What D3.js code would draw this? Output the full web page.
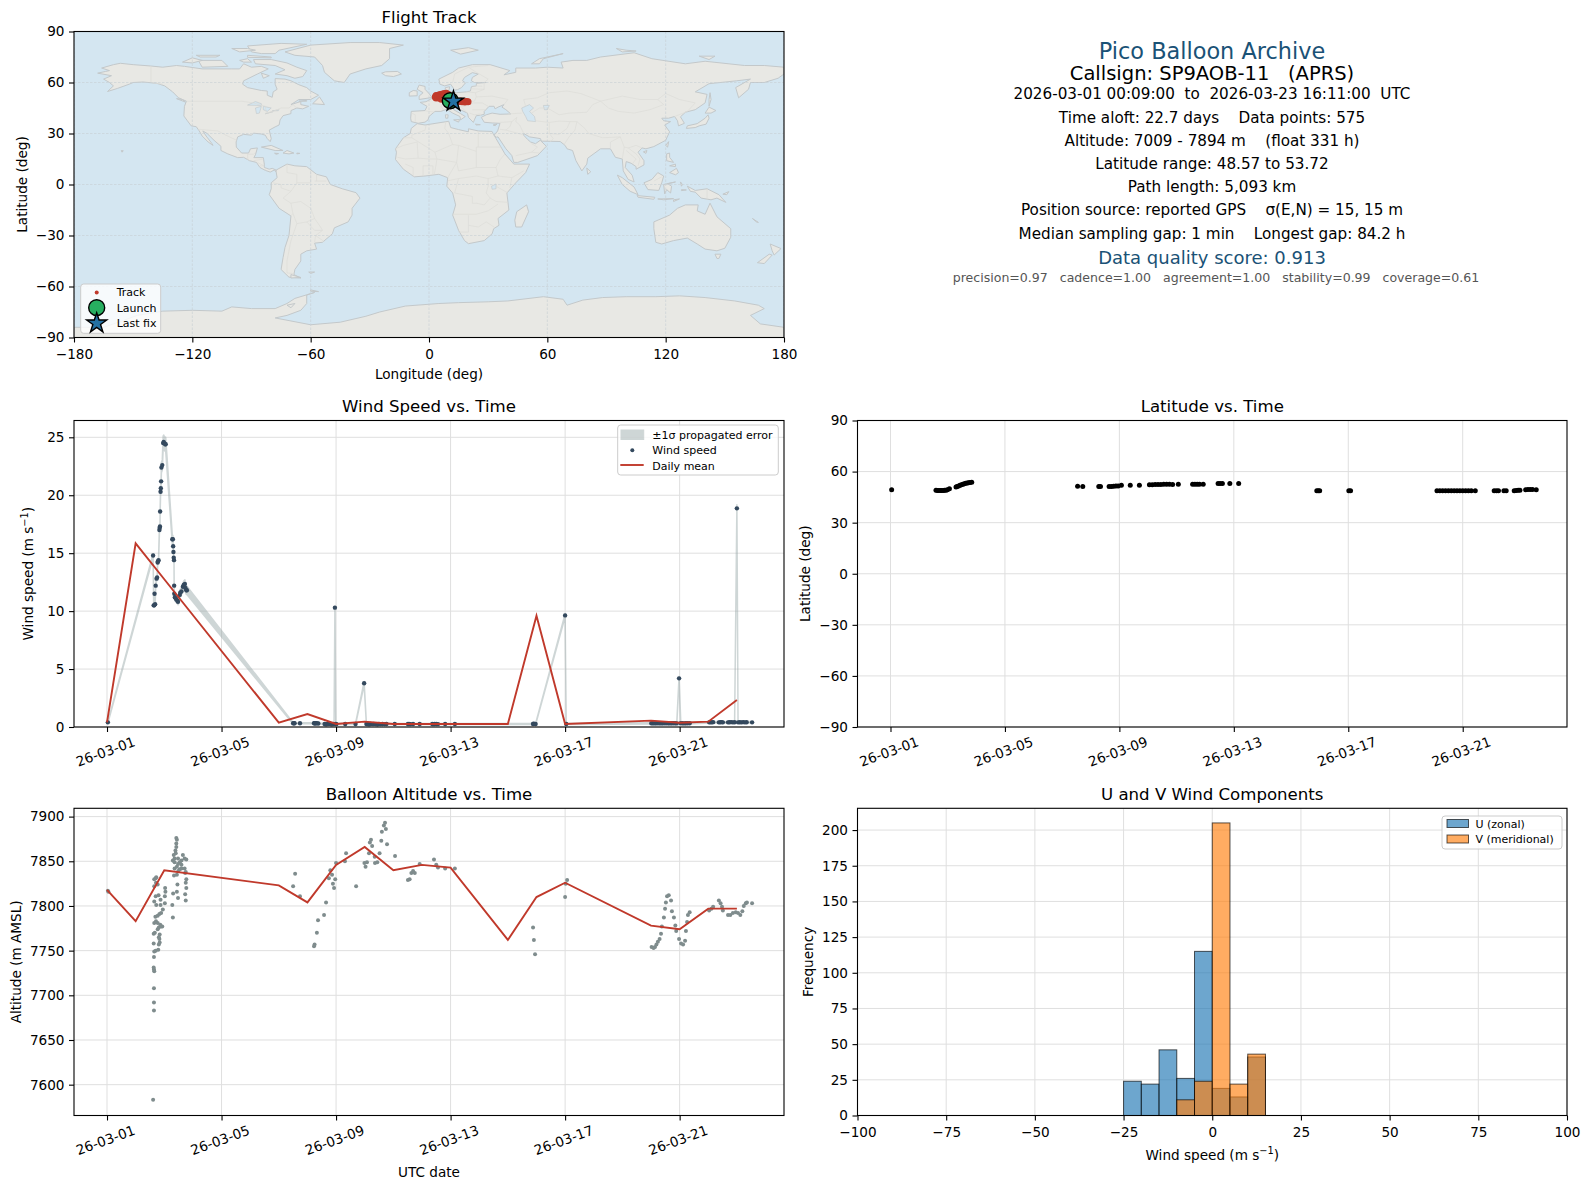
<!DOCTYPE html>
<html><head><meta charset="utf-8">
<script src="https://cdn.jsdelivr.net/npm/d3@7"></script>
<style>html,body{margin:0;padding:0;background:#fff}svg{display:block}text{font-family:"DejaVu Sans",sans-serif;fill:#000}</style>
</head><body><svg id="c" width="1589" height="1189"></svg>
<script>
// ---------- data ----------
const windDay=[1.03,2.61,2.63,2.65,2.66,2.68,2.70,2.73,2.75,2.77,2.78,2.80,2.83,2.84,2.85,2.855,2.87,2.88,2.89,2.90,2.93,2.96,2.98,3.00,3.03,3.05,3.28,3.30,3.31,3.32,3.33,3.34,3.345,3.35,3.37,3.40,3.42,3.46,3.48,3.54,3.56,3.60,3.65,3.68,3.72,3.74,3.77,3.79,7.50,7.53,7.55,7.74,8.23,8.25,8.27,8.29,8.33,8.38,8.60,8.65,8.70,8.75,8.80,8.85,8.90,8.93,8.96,8.99,9.01,9.32,9.68,9.98,10.06,10.10,10.15,10.20,10.26,10.32,10.38,10.44,10.50,10.56,10.62,10.70,10.76,11.05,11.51,11.55,11.60,11.69,11.92,12.36,12.40,12.44,12.50,12.56,12.81,13.15,15.88,15.90,15.93,15.97,17.00,17.04,20.01,20.06,20.12,20.18,20.24,20.30,20.36,20.42,20.48,20.54,20.60,20.66,20.72,20.78,20.84,20.90,20.98,21.04,21.10,21.16,21.22,21.28,21.35,22.03,22.08,22.13,22.17,22.37,22.42,22.47,22.51,22.69,22.74,22.80,22.86,22.92,23.00,23.04,23.10,23.16,23.22,23.28,23.34,23.53];
const windSpeed=[0.40,14.8,10.5,10.5,11.5,10.6,12.2,12.8,12.9,14.2,14.3,14.4,17.0,17.2,17.3,18.6,20.3,20.6,21.2,22.4,22.6,24.5,24.6,24.5,24.4,24.4,16.2,16.2,15.6,15.1,14.6,14.4,12.2,11.5,11.2,11.1,11.0,10.9,10.8,11.4,11.6,11.7,12.1,12.25,12.35,12.0,11.8,11.8,0.32,0.32,0.32,0.32,0.32,0.32,0.33,0.32,0.32,0.30,0.26,0.24,0.26,0.25,0.26,0.24,0.26,0.25,10.3,0.26,0.25,0.26,0.26,3.77,0.26,0.25,0.24,0.26,0.25,0.26,0.25,0.24,0.26,0.25,0.26,0.25,0.26,0.26,0.26,0.26,0.25,0.26,0.26,0.26,0.25,0.26,0.26,0.25,0.26,0.26,0.26,0.28,0.27,0.26,9.63,0.26,0.32,0.33,0.31,0.32,0.33,0.32,0.31,0.33,0.32,0.33,0.32,0.31,0.33,0.32,0.32,0.31,4.20,0.32,0.33,0.31,0.32,0.33,0.32,0.40,0.41,0.40,0.42,0.40,0.41,0.42,0.40,0.40,0.41,0.42,0.40,0.41,18.87,0.40,0.41,0.40,0.42,0.40,0.41,0.40];
const windSigma=[0.05,0.15,0.15,0.15,0.15,0.15,0.18,0.18,0.18,0.2,0.2,0.2,0.3,0.3,0.3,0.3,0.35,0.35,0.4,0.45,0.45,0.6,0.6,0.6,0.6,0.6,0.35,0.35,0.3,0.3,0.3,0.3,0.25,0.25,0.25,0.25,0.25,0.25,0.25,0.28,0.28,0.3,0.33,0.35,0.36,0.36,0.36,0.36,0.06,0.05,0.05,0.05,0.05,0.05,0.05,0.05,0.05,0.05,0.05,0.05,0.05,0.05,0.05,0.05,0.05,0.05,0.12,0.05,0.05,0.05,0.05,0.15,0.05,0.05,0.05,0.05,0.05,0.05,0.05,0.05,0.05,0.05,0.05,0.05,0.05,0.05,0.05,0.05,0.05,0.05,0.05,0.05,0.05,0.05,0.05,0.05,0.05,0.05,0.05,0.05,0.05,0.05,0.12,0.05,0.06,0.06,0.06,0.06,0.06,0.06,0.06,0.06,0.06,0.06,0.06,0.06,0.06,0.06,0.06,0.06,0.15,0.06,0.06,0.06,0.06,0.06,0.06,0.06,0.06,0.06,0.06,0.06,0.06,0.06,0.06,0.06,0.06,0.06,0.06,0.06,0.3,0.06,0.06,0.06,0.06,0.06,0.06,0.06];
const meanDay=[1,2,3,7,8,9,10,11,12,13,15,16,17,20,21,22,23];
const windMean=[0.40,15.85,12.75,0.37,1.12,0.26,0.46,0.26,0.26,0.26,0.26,9.6,0.26,0.55,0.37,0.46,2.33];
const altMean=[7818,7783,7840,7823,7804,7846,7866,7840,7846,7843,7762,7810,7826,7778,7774,7797,7797];
const altDay=[1.03,1.05,2.61,2.64,2.64,2.64,2.65,2.64,2.63,2.64,2.65,2.70,2.79,2.63,2.81,2.84,2.83,2.81,2.84,2.63,2.67,2.77,2.81,2.89,2.65,2.71,2.77,2.86,2.93,2.69,2.77,2.83,2.89,2.95,2.72,2.87,3.02,2.65,2.70,2.80,2.87,3.02,3.03,3.04,2.65,2.71,2.77,2.70,2.72,2.65,3.30,3.28,3.31,3.44,3.48,3.46,3.75,3.73,3.77,3.75,3.77,3.73,3.34,3.44,3.49,3.54,3.36,3.44,3.60,3.71,3.75,3.30,3.36,3.48,3.60,3.71,3.77,3.65,3.33,3.40,3.39,3.42,3.42,3.44,3.42,3.36,3.48,3.60,3.54,7.57,7.50,7.74,8.25,8.23,8.33,8.37,8.58,8.65,8.75,8.80,8.86,8.89,8.93,8.97,9.00,9.31,9.35,9.70,9.99,10.03,10.08,10.18,10.22,10.26,10.15,10.35,10.36,10.44,10.52,10.58,10.60,10.74,10.78,10.67,10.71,11.06,11.51,11.57,11.63,11.69,11.75,11.92,12.42,12.50,12.56,12.81,13.15,15.88,15.91,15.95,17.00,17.07,17.02,20.02,20.09,20.14,20.19,20.24,20.30,20.35,20.38,20.45,20.49,20.52,20.56,20.62,20.70,20.73,20.80,20.85,20.88,20.98,21.05,21.12,21.19,21.22,21.26,21.29,21.35,22.03,22.11,22.17,22.37,22.43,22.48,22.51,22.69,22.77,22.86,22.96,23.04,23.12,23.19,23.24,23.31,23.35,23.53];
const altValue=[7817,7816,7583,7683,7692,7708,7727,7729,7731,7743,7749,7750,7751,7758,7757,7759,7763,7765,7768,7769,7770,7774,7776,7777,7781,7783,7781,7779,7777,7788,7789,7791,7792,7796,7801,7801,7803,7805,7811,7812,7807,7811,7820,7816,7822,7826,7824,7831,7832,7830,7787,7801,7814,7816,7809,7824,7806,7813,7820,7826,7830,7837,7834,7835,7839,7841,7842,7844,7842,7842,7838,7851,7853,7853,7851,7853,7852,7857,7857,7859,7862,7866,7870,7874,7876,7849,7847,7846,7849,7836,7822,7811,7757,7755,7770,7784,7790,7804,7831,7840,7835,7825,7820,7830,7848,7850,7859,7822,7848,7844,7849,7871,7874,7867,7859,7855,7848,7849,7859,7873,7883,7886,7869,7890,7893,7856,7829,7830,7837,7839,7837,7847,7852,7846,7843,7842,7842,7776,7762,7746,7810,7829,7825,7754,7753,7754,7757,7760,7763,7769,7777,7787,7797,7804,7811,7812,7806,7794,7787,7778,7772,7763,7758,7757,7761,7772,7782,7790,7793,7795,7797,7799,7806,7803,7799,7795,7790,7790,7792,7793,7792,7790,7794,7800,7803,7804,7803];
const latDay=[1.04,2.59,2.64,2.69,2.74,2.79,2.84,2.89,2.94,2.99,3.06,3.29,3.33,3.38,3.43,3.48,3.53,3.58,3.63,3.68,3.73,3.78,3.84,7.54,7.72,8.28,8.34,8.64,8.72,8.80,8.88,8.96,9.07,9.38,9.70,10.05,10.15,10.25,10.35,10.45,10.55,10.65,10.75,10.86,11.06,11.56,11.64,11.72,11.80,11.93,12.45,12.52,12.60,12.86,13.17,15.90,15.95,16.00,17.02,17.08,20.10,20.20,20.30,20.40,20.50,20.60,20.70,20.80,20.90,21.00,21.10,21.20,21.30,21.44,22.10,22.18,22.25,22.44,22.52,22.80,22.87,22.94,23.00,23.20,23.28,23.36,23.44,23.57];
const latValue=[49.4,49.0,48.9,48.9,48.9,48.9,48.9,49.0,49.1,49.4,49.9,51.0,51.2,51.6,52.0,52.3,52.6,52.9,53.1,53.3,53.5,53.6,53.7,51.4,51.2,51.2,51.2,51.3,51.3,51.4,51.5,51.6,52.0,52.0,52.0,52.2,52.3,52.4,52.4,52.4,52.5,52.5,52.5,52.4,52.6,52.6,52.6,52.5,52.5,52.6,53.0,53.0,53.0,53.0,53.0,48.8,48.8,48.8,48.8,48.8,48.8,48.8,48.8,48.8,48.8,48.8,48.8,48.8,48.8,48.8,48.8,48.8,48.8,48.8,48.8,48.8,48.8,48.8,48.8,48.8,48.9,49.0,49.1,49.4,49.5,49.5,49.5,49.4];
const trackLon=[3.2,3.6,4.0,4.4,4.9,5.3,5.8,6.3,6.8,7.3,7.8,8.3,8.8,9.3,9.8,3.6,4.5,5.4,6.3,7.2,8.1,9.0,10.2,11.0,12.0,13.2,14.5,15.3,16.0,16.8,17.5,18.2,19.0,19.8];
const trackLat=[51.5,50.9,52.0,51.3,52.6,51.9,53.0,52.4,53.3,52.6,53.5,52.9,53.7,52.6,53.0,52.4,51.4,50.8,50.2,51.0,50.5,49.8,49.7,49.5,49.4,49.0,48.9,48.8,49.1,48.7,48.9,48.6,48.8,48.7];
const launchLon=[10.8],launchLat=[49.3],lastLon=[12.4],lastLat=[48.9];
const binEdges=[-25,-20,-15,-10,-5,0,5,10,15];
const uCounts=[24,22,46,26,115,19,13,41];
const vCounts=[0,0,0,11,24,205,22,43];
const mapXTicks=[-180,-120,-60,0,60,120,180];
const mapYTicks=[-90,-60,-30,0,30,60,90];
const windTicks=[0,5,10,15,20,25];
const altTicks=[7600,7650,7700,7750,7800,7850,7900];
const histXTicks=[-100,-75,-50,-25,0,25,50,75,100];
const histYTicks=[0,25,50,75,100,125,150,175,200];
const dateTicks=[1,5,9,13,17,21];
const infoLines=[
 ["Pico Balloon Archive",22.4,"#1a5276"],["Callsign: SP9AOB-11   (APRS)",19.5,"#000"],
 ["2026-03-01 00:09:00  to  2026-03-23 16:11:00  UTC",15.2,"#000"],["Time aloft: 22.7 days    Data points: 575",15.2,"#000"],
 ["Altitude: 7009 - 7894 m    (float 331 h)",15.2,"#000"],["Latitude range: 48.57 to 53.72",15.2,"#000"],
 ["Path length: 5,093 km",15.2,"#000"],["Position source: reported GPS    σ(E,N) = 15, 15 m",15.2,"#000"],
 ["Median sampling gap: 1 min    Longest gap: 84.2 h",15.2,"#000"],["Data quality score: 0.913",18,"#1a5276"],
 ["precision=0.97   cadence=1.00   agreement=1.00   stability=0.99   coverage=0.61",12.55,"#555"]];
const infoCenters=[50.7,73,94,117.5,141,163.5,186.5,210.3,233.6,257.4,277.7];
const infoX=[1212,1212,1212,1212,1212,1212,1212,1212,1212,1212,1216];

const land=[
[[-168,65.5],[-164,66.5],[-162,67],[-166,68.5],[-160,70.5],[-156.5,71.3],[-150,70.5],[-141,69.7],[-135,69],[-128,70],[-124,69.5],[-115,68],[-108,68],[-100,68],[-96,68],[-94,71],[-90,69],[-85,69.5],[-81.5,68],[-87,65],[-94,61],[-94.5,59],[-92,57],[-85,55.3],[-82,55],[-82,52.5],[-79.5,51.3],[-79,54.5],[-77,56],[-78,59],[-78,62.3],[-73,62],[-70,61],[-66,58.7],[-62,57],[-60,55],[-56,52.5],[-60,50],[-66,50],[-70,47],[-65,48.8],[-65,47],[-61,46],[-64,44.5],[-67,45],[-70,43.5],[-70,41.7],[-74,40.5],[-75.5,38],[-76,35],[-78,33.9],[-81,32],[-80,27],[-80.5,25.2],[-82,27],[-83,29],[-85,29.7],[-89,30.2],[-90,29],[-94,29.5],[-97,28],[-97.8,25],[-97.7,22],[-95,18.5],[-91.5,18.5],[-90.5,21],[-87,21.5],[-88,17.5],[-88.8,15.8],[-84,15.8],[-83.5,12],[-83.5,10],[-81,9],[-79.5,9.5],[-77.5,8.5],[-77.5,7.5],[-78.5,8.5],[-80.5,7.3],[-83,8.3],[-85.7,10],[-87.5,13],[-91,14],[-94,16],[-97,15.8],[-102,18],[-105.5,20],[-105.5,22.5],[-109,26],[-112.5,30],[-114.7,31.5],[-113,28.5],[-110,24],[-109.5,23],[-112,25],[-115,28.5],[-116.5,31.5],[-118,34],[-120.6,34.5],[-122.5,37.5],[-124.3,40.3],[-124,46],[-123,49],[-127,51],[-130,54.5],[-134,58],[-138,59.5],[-145,60.3],[-150,60],[-152,59],[-158,56.5],[-163,54.7],[-160,58],[-162,60],[-165,62],[-161,64]],
[[-73,78],[-60,82],[-40,83.5],[-25,83.5],[-13,82],[-20,80],[-20,74],[-24,70],[-32,68],[-40,65],[-43,60],[-48,61],[-53,66],[-54,70],[-58,75],[-68,76]],
[[-80,73.5],[-72,71.5],[-67,69],[-62,67],[-64,63.5],[-68,62.5],[-72,64],[-78,65],[-73,67.5],[-78,70],[-88,71],[-89,73.5]],
[[-117,73],[-105,73],[-102,69.5],[-115,69]],[[-90,78],[-85,77],[-78,77],[-76,79],[-62,82.5],[-75,83],[-92,81.5]],[[-125,72],[-120,74.5],[-115,73],[-120,71.5]],
[[-96,73],[-92,74],[-90,72],[-94,72]],[[-92,76],[-80,75],[-80,74.5],[-92,74.8]],[[-118,76],[-106,76],[-108,75],[-116,75]],[[-100,80],[-92,80],[-88,79],[-96,78]],
[[-59,47.5],[-55.5,51.5],[-53,47]],[[-128,50.5],[-125,50],[-123.5,48.5]],[[-66,49],[-62,49.5],[-62,49]],[[-85,65.5],[-81,64],[-84,62.5]],
[[-77.5,8.5],[-72,12],[-68,11],[-62,10.5],[-57,6],[-52,4.5],[-50,0],[-44,-2.5],[-37,-4.8],[-35,-8],[-39,-14],[-39,-18],[-41,-22],[-48,-25.5],[-49,-29],[-54,-34],[-58,-34.5],[-57,-38],[-62,-39],[-65,-41],[-65,-45],[-68,-50],[-68.5,-53],[-65,-55],[-71,-54.5],[-75,-50],[-74,-43],[-73,-37],[-71,-30],[-70,-18.5],[-76,-14],[-81,-6],[-80,-2.5],[-80,1],[-77,4],[-77.5,7.5]],
[[32.5,30],[34,27],[37,21],[38.5,18],[43,12],[51,12],[49,7],[44,1],[39.5,-5],[40.5,-15],[35,-20],[35.5,-24],[32.8,-26],[32,-29],[28,-33],[20,-34.8],[18,-33],[15,-27],[12,-18],[13.5,-12],[12,-5],[9,-1],[9.5,4],[5,6],[-2,5],[-7.5,4.5],[-13,9],[-17,14.7],[-16.5,19],[-17,21],[-13,27.5],[-9.5,30],[-9,33],[-6,35.8],[-2,35],[10,37.2],[11,33.5],[15,32.3],[20,31],[20,32.8],[25,31.5],[32,31.2]],
[[-9,37],[-9.3,39],[-9,43],[-2,43.5],[-1,46],[-4.5,48.3],[-1.5,48.7],[2,51],[4,52],[8,54],[8.3,57],[10.5,57.5],[10,55],[12,54.3],[14,54],[19,54.5],[21,55],[21.5,57.5],[24,58],[24,59.5],[29,60],[23,60],[21.5,61],[22,63],[25,65],[22,65.8],[18,63],[17,61],[18.5,59.8],[16.5,57],[14.5,55.8],[13,55.5],[11,59],[8,58],[5.5,59],[5,62],[12,66],[15,68.5],[22,70.5],[31,70.5],[41,67],[38,64.5],[44,66],[44,68.5],[54,68.5],[60,69],[68,68.5],[67,72],[73,73],[80,73],[87,75],[104,77.5],[113,74],[130,71],[140,72.5],[160,70],[170,70],[180,69],[180,65],[177,62.5],[170,60],[163,60],[162,56],[157,51],[155.5,57],[163,62],[156,61],[142,59.3],[135,54.5],[141,53],[140,48],[135,44],[130,42.5],[127.5,39.8],[129.5,36],[126.5,34.5],[126,37.5],[124.5,40],[121.5,39],[118,39],[119,37.5],[122.5,37],[119.5,35],[122,31],[120,26],[114,22.3],[110,21],[108,21.5],[106,19],[109,14],[109,11.5],[105,9],[105,10.5],[102.5,12.5],[100,13.5],[99.5,10],[103,5.5],[104,1.5],[101,3],[98.5,8],[98,15],[94.5,16],[92,21],[87,21],[80.5,15.5],[80,12],[77.5,8],[74.5,14],[72.8,20],[70,21],[69,23],[66.5,25.3],[57,25.5],[56.5,27],[51,28],[48,30],[48,29],[50,26.5],[51.5,25],[54,24],[56.4,26],[59.5,22.5],[55,17],[45,13],[43,13],[42,17],[39,21],[35,28],[34.2,27.8],[33,29],[34.8,31.5],[36,36],[32,36.2],[28,36.6],[26.5,39.5],[29,41],[32,42],[36,41.3],[41.5,41.5],[39,44],[37,45.5],[38,47],[35,45.5],[33.5,44.5],[33,46],[30.5,46],[28,43],[28,41.3],[26,40.7],[24,40.5],[23,38],[22.5,36.5],[20,39.5],[19.5,42],[14,45],[12.3,45.3],[12.5,44],[16,41.7],[18.4,40],[16,38],[15.7,40],[12,42],[9,44.3],[6,43],[3,43],[0,40],[-0.5,38],[-2,36.7],[-5.5,36]],
[[-5,50],[1.5,51.2],[0,53.5],[-2,56],[-2,57.7],[-5,58.5],[-6,56],[-3,54],[-5,52]],[[-10,52],[-6,52.2],[-6,55],[-8,55.3],[-10,54]],[[-24,65.5],[-22,64],[-18,63.5],[-14,65],[-16,66.5],[-22,66.3]],
[[11,79],[20,80.5],[25,79],[16,76.7]],[[52,71],[56,74],[68,77],[58,74],[56,71]],[[95,80],[100,79],[105,78.5],[98,78]],[[137,75.5],[145,75.5],[142,73.5]],[[12.5,38],[15.5,38.2],[15,36.7]],[[8.3,41],[9.7,41],[9.5,39],[8.5,39]],[[23.5,35.5],[26,35.2],[24,35]],[[32.5,35],[34.5,35.6],[33.5,34.6]],
[[49.5,-12],[50.5,-16],[47,-25],[44,-25],[43.5,-21],[44.5,-16]],[[80,9.7],[82,7.5],[80.5,6]],[[130.5,33],[131,34.5],[136,35.8],[140,39],[141.5,41],[142,39],[140.5,35.5],[137,34.5],[135,33.5]],[[140,42],[142,45.5],[145.5,43.5],[143,42]],[[142,46],[143,50],[142.5,54],[142,50]],[[120,23],[121.5,25.2],[121,22]],[[108.7,19.2],[110.5,20],[110,18.3]],
[[120.5,14],[120.5,18],[122,18.5],[122,16],[124,13]],[[122,7],[125.5,9.5],[126.5,7],[125,5.7]],[[122,11],[125,12],[125,10.5]],[[109,1],[113,3],[116,7],[119,5],[118,1],[116.5,-3.5],[111,-3]],[[95.5,5.5],[98,4],[104,-1.5],[106,-6],[102,-4],[98,0]],[[105.5,-6.5],[114.5,-7.5],[114,-8.7],[106,-7.5]],[[119.5,-5.5],[119,0],[125,1.5],[121,0.5],[123,-1],[122.5,-5],[120.5,-3]],[[116,-8.5],[124,-8.3],[119,-9]],[[124,-10],[127,-8.5],[124,-9]],[[127.5,1.5],[128.5,0],[128,-1]],[[128,-3],[130.5,-3.2],[128,-3.6]],
[[131,-1],[135,-3.5],[141,-2.5],[147,-6],[150.5,-10.5],[146,-8],[143,-9],[138,-8],[135,-4.5],[132.5,-4]],[[149,-5.7],[152,-4.2],[151,-6]],
[[114,-22],[122,-18],[126,-14],[130,-12],[136.5,-12],[136,-15.5],[140,-17.5],[142.5,-11],[146,-19],[153,-26],[153,-31],[150,-37.5],[146,-39],[140,-38],[136,-35],[131,-31.5],[124,-33],[118,-35],[115,-34],[114,-26]],[[145,-41],[148,-41],[147,-43.5],[146,-43.5]],[[166.5,-46],[172.5,-41],[174,-41.5],[170,-46.5]],[[173,-35],[178.5,-37.7],[175,-41.5],[174,-39]],[[164,-20],[167,-22.3],[166,-22]],
[[-85,22],[-80,23],[-74,20],[-78,20]],[[-74,18.5],[-72,20],[-68.5,18.5],[-71,18]],[[-67,18.5],[-65.5,18.3],[-67,18]],[[-78.3,18.4],[-76.3,18.2],[-77.5,17.8]],[[-61,-51.5],[-58,-51.5],[-60,-52.3]],[[-156,20],[-155,19.8],[-155.7,19]],[[-70,-53],[-65,-54.7],[-70,-55]],
[[-60,-62],[-56,-63],[-60,-62.8]],[[-180,-84],[-165,-84],[-155,-80],[-148,-77],[-135,-74.5],[-120,-74],[-105,-74.5],[-100,-72],[-90,-73],[-78,-73],[-72,-70],[-68,-67],[-58,-63.5],[-62,-65],[-62,-70],[-65,-74],[-72,-77],[-78,-78.5],[-60,-82.5],[-45,-81],[-32,-77.5],[-25,-75],[-12,-71.5],[5,-70],[15,-69.5],[30,-69],[40,-68.5],[58,-66],[68,-67.5],[70,-71],[78,-68],[88,-66.5],[100,-66],[115,-66],[127,-65.5],[140,-66.5],[155,-68.5],[167,-71],[170,-73],[163,-77],[168,-82],[180,-84],[180,-90],[-180,-90]],
[[-72,-71],[-68,-70],[-70,-72.5]]
];
const lakes=[[[47,45],[51,47],[53,45],[51,43],[53.5,40],[54,37],[50,37.5],[49,40],[47.5,43]],[[-92,46.7],[-88,48.8],[-85,47.5],[-85,46.5],[-90,46.6]],[[-87.5,41.7],[-88,45],[-85,46],[-86,42]],[[-84,46],[-80,45],[-82,43],[-84,44]],[[-83,41.6],[-79,42.9],[-80,42.6]],[[-79.5,43.3],[-76,44],[-76.5,43.4]],[[31.7,-1],[34,0.3],[34,-2.5],[32,-2.8]],[[58,46.5],[61,46.5],[60,44],[58.5,44]]];
const borders=[
[[-123,49],[-95,49],[-89,48],[-83,46],[-82.5,42],[-79,43],[-75,45],[-71,45],[-69,47],[-67,45]],[[-141,69.7],[-141,60],[-135,59]],[[-117,32.5],[-107,31.5],[-103,29],[-97.5,26]],[[-92,14.5],[-92,17.8],[-89,17.8],[-88.3,18.5]],[[-89,14],[-84,15]],[[-87,13],[-83.7,11]],[[-85.7,11],[-83.5,10.9]],[[-83,8.5],[-82.7,9.5]],
[[-72,12],[-72,7],[-67,6],[-67,1],[-70,-4]],[[-60,8.5],[-60,5],[-60,1],[-67,1]],[[-52,2],[-58,2]],[[-57,6],[-57,2]],[[-79,1],[-75,0],[-75,-2],[-70,-4]],[[-70,-4],[-74,-8],[-70,-11],[-69,-17],[-70,-18.5]],[[-70,-11],[-65,-10],[-60,-14],[-58,-20],[-55,-25],[-54,-27],[-57.5,-30],[-58,-34]],[[-69,-17],[-67,-23],[-70,-33],[-72,-45],[-72,-52],[-68.5,-52.5]],[[-67,-23],[-62,-22],[-58,-20]],[[-62,-22],[-58,-27],[-54,-27]],[[-57.5,-30],[-53,-33.7]],
[[-13,27.5],[-8.7,27.5],[-8.7,29],[-2,32],[-1.5,35]],[[-8.7,27.5],[3,19],[12,23.5],[10,30],[8,33],[8.5,37]],[[12,23.5],[15,23],[24,19.5],[24,22],[25,22],[25,31.5]],[[25,22],[36.5,22]],[[-17,21],[-13,23],[-6,25],[-5.5,15.5],[-12,15],[-16,16]],[[3,19],[4,15],[0,15],[-5.5,15.5]],[[4,15],[14,13],[15,23]],[[14,13],[15,8],[24,10],[24,19.5]],[[24,10],[34,10],[36,14.5],[38.5,18]],[[34,10],[35,5],[42,4],[48,8]],[[35,5],[30,3.5],[30,-1],[29,-5],[31,-8],[34,-10],[40,-10.5]],[[30,3.5],[24,5],[15,3.5],[9.5,2.2]],[[15,3.5],[13,-5],[22,-7],[22,-11],[24,-11],[28,-12],[31,-8]],[[42,4],[41,-2]],[[34,-1],[40,-5]],[[12,-17.5],[24,-17.5],[30,-15.5],[35,-11.5]],[[20,-18],[20,-28],[15,-28]],[[20,-24],[25,-25],[29,-22],[33,-25]],[[-8,4.5],[-8,10],[-12,12]],[[-3,5],[-3,11],[2,11],[2,6]],[[2.7,6],[3.5,11],[4,15]],[[9.5,4],[14,13]],
[[-9,42],[-7,41],[-7,37]],[[-2,43.4],[3,42.5]],[[2.5,51],[6,49.5],[8,49],[7.5,47.5],[6,46],[7.5,43.8]],[[7,53.5],[6,50.5]],[[9,55],[10,54.8]],[[14,54],[15,51],[12,50],[13.8,48.7],[17,48.8],[23,49],[24,51.5],[23.5,54],[19,54.5]],[[7.5,47.5],[13,47.5],[17,48]],[[13,46.5],[18,46],[22.5,48]],[[16,46],[19.5,42]],[[22.5,48],[27,48],[30,46]],[[22,44],[29,44]],[[20.5,42],[23,41],[26,41.5]],[[24,51.5],[32,52],[40,50],[38,47]],[[23.5,54],[28,56],[28,59.5]],[[21,56.3],[28,56]],[[22,58],[27,57.8]],[[20,69],[24,66],[30,62],[28,60]],[[12,60],[13,65],[20,69]],[[20,69],[30,70]],[[47,42],[40,41.5]],[[26,41.5],[26,40]],
[[36,36.5],[42,37],[44.5,39.5],[44,37],[46,35],[48,30]],[[42,37],[41,34],[39,32],[36,32.5]],[[39,32],[47,29.5],[48,29]],[[52,24],[55,22],[52,19],[44,17]],[[52,19],[56,18.5]],[[54,37.5],[61,36.5],[61,30],[63,27],[61.5,25]],[[61,30],[66,29.5],[70,33],[71.5,37],[75,37]],[[61,36.5],[66,37.3],[71.5,37]],[[75,37],[74,32],[71,28],[68.5,23.5]],[[75,37],[79,33],[81,30],[88,27.5],[97,28],[92,25],[92,21]],[[49,46],[48,50],[55,51],[61,54],[70,55],[77,53.5],[87,49]],[[52,42],[56,45],[60,45],[66,41],[71,42],[80,42.5]],[[80,42.5],[83,47],[87,49]],[[87,49],[98,52],[107,50],[116,50],[119,47],[112,44],[104,42],[96,43],[91,45],[87,49]],[[116,50],[120,53.5],[127,50],[135,48],[131,43],[130,42.5]],[[124.5,40],[130,42.5]],[[97,28],[99,22],[101,21.5],[105,23],[108,21.5]],[[99,22],[98,15]],[[101,21.5],[105,18],[107,15],[106,11]],[[100,20],[105,15],[103,12]],[[141,-2.5],[141,-9]],[[114,2],[118,4.5]]
];

// ---------- layout ----------
const svg=d3.select("#c");
const leftP={x0:74,x1:784},rightP={x0:857.5,x1:1567};
const row1={y0:31.5,y1:337.5},row2={y0:420.5,y1:727},row3={y0:808.3,y1:1115.5};
const GRID="#dfdfdf",RED="#c0392b";
const dayDate=d=>new Date(Date.UTC(2026,2,1)+(d-1)*864e5);
const tDomain=[dayDate(-0.153),dayDate(24.645)];
const fs=13.6;

function grid(g,p,r,x,y,xt,yt,opt={}){
  const gg=g.append("g").attr("stroke",opt.color||GRID).attr("stroke-width",opt.w||1).attr("stroke-dasharray",opt.dash||null).attr("fill","none");
  xt.forEach(t=>gg.append("line").attr("x1",x(t)).attr("x2",x(t)).attr("y1",r.y0).attr("y2",r.y1));
  yt.forEach(t=>gg.append("line").attr("x1",p.x0).attr("x2",p.x1).attr("y1",y(t)).attr("y2",y(t)));
}
function frame(g,p,r){
  g.append("rect").attr("x",p.x0).attr("y",r.y0).attr("width",p.x1-p.x0).attr("height",r.y1-r.y0).attr("fill","none").attr("stroke","#000").attr("stroke-width",1.1);
}
function yAxis(g,p,y,ticks,fmt){
  const a=g.append("g").attr("transform",`translate(${p.x0},0)`).call(d3.axisLeft(y).tickValues(ticks).tickFormat(fmt||(d=>String(d).replace("-","−"))).tickSize(5).tickPadding(4.5));
  a.select(".domain").remove();a.selectAll("line").attr("stroke","#000").attr("stroke-width",1.1);
  a.selectAll("text").attr("font-size",fs).attr("font-family","DejaVu Sans").attr("fill","#000");
}
function xAxis(g,r,x,ticks,fmt){
  const a=g.append("g").attr("transform",`translate(0,${r.y1})`).call(d3.axisBottom(x).tickValues(ticks).tickFormat(fmt||(d=>String(d).replace("-","−"))).tickSize(5).tickPadding(6.5));
  a.select(".domain").remove();a.selectAll("line").attr("stroke","#000").attr("stroke-width",1.1);
  a.selectAll("text").attr("font-size",fs).attr("font-family","DejaVu Sans").attr("fill","#000");
}
function dateAxis(g,r,x){
  const a=g.append("g").attr("transform",`translate(0,${r.y1})`).call(d3.axisBottom(x).tickValues(dateTicks.map(dayDate)).tickFormat(d3.utcFormat("%y-%m-%d")).tickSize(5));
  a.select(".domain").remove();a.selectAll("line").attr("stroke","#000").attr("stroke-width",1.1);
  a.selectAll("text").attr("font-size",fs).attr("font-family","DejaVu Sans").attr("fill","#000")
   .attr("y",null).attr("dy",null).attr("text-anchor","middle").attr("dominant-baseline","central")
   .attr("transform","translate(-2,24.5) rotate(-20)");
}
function title(t,p,r){svg.append("text").attr("x",(p.x0+p.x1)/2).attr("y",r.y0-8.5).attr("text-anchor","middle").attr("font-size",16.6).text(t);}
function withSup(sel,t){
  const m=t.match(/^(.*)\^(.+)\^(.*)$/);
  if(!m){sel.text(t);return;}
  sel.append("tspan").text(m[1]);
  sel.append("tspan").attr("font-size",fs*.72).attr("dy",-5.5).text(m[2]);
  sel.append("tspan").attr("dy",5.5).text(m[3]);
}
function xLabel(t,p,yy){const s=svg.append("text").attr("x",(p.x0+p.x1)/2).attr("y",yy+4.8).attr("text-anchor","middle").attr("font-size",fs);withSup(s,t);}
function yLabel(t,xx,r){const s=svg.append("text").attr("transform",`translate(${xx+4.8},${(r.y0+r.y1)/2}) rotate(-90)`).attr("text-anchor","middle").attr("font-size",fs);withSup(s,t);}
function legendBox(g,x,y,w,h){g.append("rect").attr("x",x).attr("y",y).attr("width",w).attr("height",h).attr("rx",3).attr("fill","#fff").attr("fill-opacity",.8).attr("stroke","#ccc").attr("stroke-width",1);}
function legendText(g,t,x,y,size){g.append("text").attr("x",x).attr("y",y).attr("dominant-baseline","central").attr("font-size",size||11).attr("fill","#000").text(t);}
function clip(id,p,r){svg.append("clipPath").attr("id",id).append("rect").attr("x",p.x0).attr("y",r.y0).attr("width",p.x1-p.x0).attr("height",r.y1-r.y0);}

// ---------- map ----------
{
 const p=leftP,r=row1,g=svg.append("g");
 const x=d3.scaleLinear().domain([-180,180]).range([p.x0,p.x1]);
 const y=d3.scaleLinear().domain([-90,90]).range([r.y1,r.y0]);
 const ln=d3.line().x(d=>x(d[0])).y(d=>y(d[1]));
 clip("cm",p,r);
 const m=g.append("g").attr("clip-path","url(#cm)");
 m.append("rect").attr("x",p.x0).attr("y",r.y0).attr("width",p.x1-p.x0).attr("height",r.y1-r.y0).attr("fill","#d4e6f1");
 m.selectAll(".l").data(land).join("path").attr("d",d=>ln(d)+"Z").attr("fill","#e8e8e4").attr("stroke","#c3c8ca").attr("stroke-width",1).attr("stroke-linejoin","round");
 m.selectAll(".k").data(lakes).join("path").attr("d",d=>ln(d)+"Z").attr("fill","#d4e6f1").attr("stroke","#c3c8ca").attr("stroke-width",.6);
 m.selectAll(".b").data(borders).join("path").attr("d",ln).attr("fill","none").attr("stroke","#dcdcd8").attr("stroke-width",.7);
 grid(m,p,r,x,y,mapXTicks,mapYTicks,{color:"#c6ced4",w:.6,dash:"2.5,1.5"});
 m.selectAll(".t").data(trackLon).join("circle").attr("cx",d=>x(d)).attr("cy",(d,i)=>y(trackLat[i])).attr("r",3.5).attr("fill",RED);
 m.append("circle").attr("cx",x(launchLon[0])).attr("cy",y(launchLat[0])).attr("r",8).attr("fill","#27ae60").attr("stroke","#000").attr("stroke-width",1.4);
 const star=d3.symbol().type(d3.symbolStar).size(125);
 m.append("path").attr("d",star()).attr("transform",`translate(${x(lastLon[0])},${y(lastLat[0])})`).attr("fill","#2471a3").attr("stroke","#000").attr("stroke-width",1.4);
 frame(g,p,r);yAxis(g,p,y,mapYTicks);xAxis(g,r,x,mapXTicks);
 title("Flight Track",p,r);xLabel("Longitude (deg)",p,374);yLabel("Latitude (deg)",22,r);
 const l=svg.append("g");
 legendBox(l,80.7,284,80,49.3);
 l.append("circle").attr("cx",96.7).attr("cy",292.5).attr("r",2).attr("fill",RED);
 l.append("circle").attr("cx",96.7).attr("cy",307.7).attr("r",8).attr("fill","#27ae60").attr("stroke","#000").attr("stroke-width",1.4);
 l.append("path").attr("d",star()).attr("transform","translate(96.7,323.3)").attr("fill","#2471a3").attr("stroke","#000").attr("stroke-width",1.4);
 legendText(l,"Track",116.7,292,11);legendText(l,"Launch",116.7,308,11);legendText(l,"Last fix",116.7,323,11);
}
// ---------- info text ----------
infoLines.forEach((d,i)=>svg.append("text").attr("x",infoX[i]).attr("y",infoCenters[i]).attr("text-anchor","middle").attr("dominant-baseline","central").attr("font-size",d[1]).style("white-space","pre").style("fill",d[2]).text(d[0]));

// ---------- wind ----------
{
 const p=leftP,r=row2,g=svg.append("g");
 const x=d3.scaleUtc().domain(tDomain).range([p.x0,p.x1]);
 const y=d3.scaleLinear().domain([0,26.45]).range([r.y1,r.y0]);
 grid(g,p,r,x,y,dateTicks.map(dayDate),windTicks);
 clip("cw",p,r);
 const c=g.append("g").attr("clip-path","url(#cw)");
 const area=d3.area().x(d=>x(dayDate(d))).y0((d,i)=>y(windSpeed[i]-windSigma[i])).y1((d,i)=>y(windSpeed[i]+windSigma[i]));
 c.append("path").attr("d",area(windDay)).attr("fill","#95a5a6").attr("stroke","#95a5a6").attr("stroke-width",1.5).attr("stroke-linejoin","round").attr("opacity",.45);
 c.selectAll(".p").data(windDay).join("circle").attr("cx",d=>x(dayDate(d))).attr("cy",(d,i)=>y(windSpeed[i])).attr("r",2.2).attr("fill","#34495e");
 const line=d3.line().x(d=>x(dayDate(d))).y((d,i)=>y(windMean[i]));
 c.append("path").attr("d",line(meanDay)).attr("fill","none").attr("stroke",RED).attr("stroke-width",1.9);
 frame(g,p,r);yAxis(g,p,y,windTicks);dateAxis(g,r,x);
 title("Wind Speed vs. Time",p,r);yLabel("Wind speed (m s^−1^)",28.4,r);
 const l=svg.append("g");
 legendBox(l,617.7,425,160.6,50);
 l.append("rect").attr("x",621).attr("y",430).attr("width",22.7).attr("height",9.5).attr("fill","#95a5a6").attr("stroke","#95a5a6").attr("opacity",.45);
 l.append("circle").attr("cx",632.3).attr("cy",450.3).attr("r",2).attr("fill","#34495e");
 l.append("line").attr("x1",620.3).attr("x2",643.7).attr("y1",465).attr("y2",465).attr("stroke",RED).attr("stroke-width",1.9);
 legendText(l,"±1σ propagated error",652.3,435,11);legendText(l,"Wind speed",652.3,450.3,11);legendText(l,"Daily mean",652.3,466,11);
}
// ---------- latitude ----------
{
 const p=rightP,r=row2,g=svg.append("g");
 const x=d3.scaleUtc().domain(tDomain).range([p.x0,p.x1]);
 const y=d3.scaleLinear().domain([-90,90]).range([r.y1,r.y0]);
 grid(g,p,r,x,y,dateTicks.map(dayDate),mapYTicks);
 g.selectAll(".p").data(latDay).join("circle").attr("cx",d=>x(dayDate(d))).attr("cy",(d,i)=>y(latValue[i])).attr("r",2.5).attr("fill","#000");
 frame(g,p,r);yAxis(g,p,y,mapYTicks);dateAxis(g,r,x);
 title("Latitude vs. Time",p,r);yLabel("Latitude (deg)",805,r);
}
// ---------- altitude ----------
{
 const p=leftP,r=row3,g=svg.append("g");
 const x=d3.scaleUtc().domain(tDomain).range([p.x0,p.x1]);
 const y=d3.scaleLinear().domain([7565.5,7909.3]).range([r.y1,r.y0]);
 grid(g,p,r,x,y,dateTicks.map(dayDate),altTicks);
 g.selectAll(".p").data(altDay).join("circle").attr("cx",d=>x(dayDate(d))).attr("cy",(d,i)=>y(altValue[i])).attr("r",2).attr("fill","#7f8c8d");
 const line=d3.line().x(d=>x(dayDate(d))).y((d,i)=>y(altMean[i]));
 g.append("path").attr("d",line(meanDay)).attr("fill","none").attr("stroke",RED).attr("stroke-width",1.9);
 frame(g,p,r);yAxis(g,p,y,altTicks);dateAxis(g,r,x);
 title("Balloon Altitude vs. Time",p,r);xLabel("UTC date",p,1172);yLabel("Altitude (m AMSL)",16,r);
}
// ---------- histogram ----------
{
 const p=rightP,r=row3,g=svg.append("g");
 const x=d3.scaleLinear().domain([-100,100]).range([p.x0,p.x1]);
 const y=d3.scaleLinear().domain([0,215.25]).range([r.y1,r.y0]);
 grid(g,p,r,x,y,histXTicks,histYTicks);
 const bars=(vals,color)=>g.append("g").selectAll("rect").data(vals).join("rect")
   .attr("x",(d,i)=>x(binEdges[i])).attr("width",(d,i)=>x(binEdges[i+1])-x(binEdges[i]))
   .attr("y",d=>y(d)).attr("height",d=>y(0)-y(d)).attr("fill",color).attr("fill-opacity",.65)
   .attr("stroke","#000").attr("stroke-opacity",.65).attr("stroke-width",1).attr("display",d=>d>0?null:"none");
 bars(uCounts,"#1f77b4");bars(vCounts,"#ff7f0e");
 frame(g,p,r);yAxis(g,p,y,histYTicks);xAxis(g,r,x,histXTicks);
 title("U and V Wind Components",p,r);xLabel("Wind speed (m s^−1^)",p,1155);yLabel("Frequency",808,r);
 const l=svg.append("g");
 legendBox(l,1442,816,120,33);
 l.append("rect").attr("x",1447).attr("y",819.5).attr("width",21.5).attr("height",8).attr("fill","#1f77b4").attr("fill-opacity",.65).attr("stroke","#000").attr("stroke-opacity",.65);
 l.append("rect").attr("x",1447).attr("y",835).attr("width",21.5).attr("height",8).attr("fill","#ff7f0e").attr("fill-opacity",.65).attr("stroke","#000").attr("stroke-opacity",.65);
 legendText(l,"U (zonal)",1475.5,824,11);legendText(l,"V (meridional)",1475.5,839,11);
}
</script></body></html>
